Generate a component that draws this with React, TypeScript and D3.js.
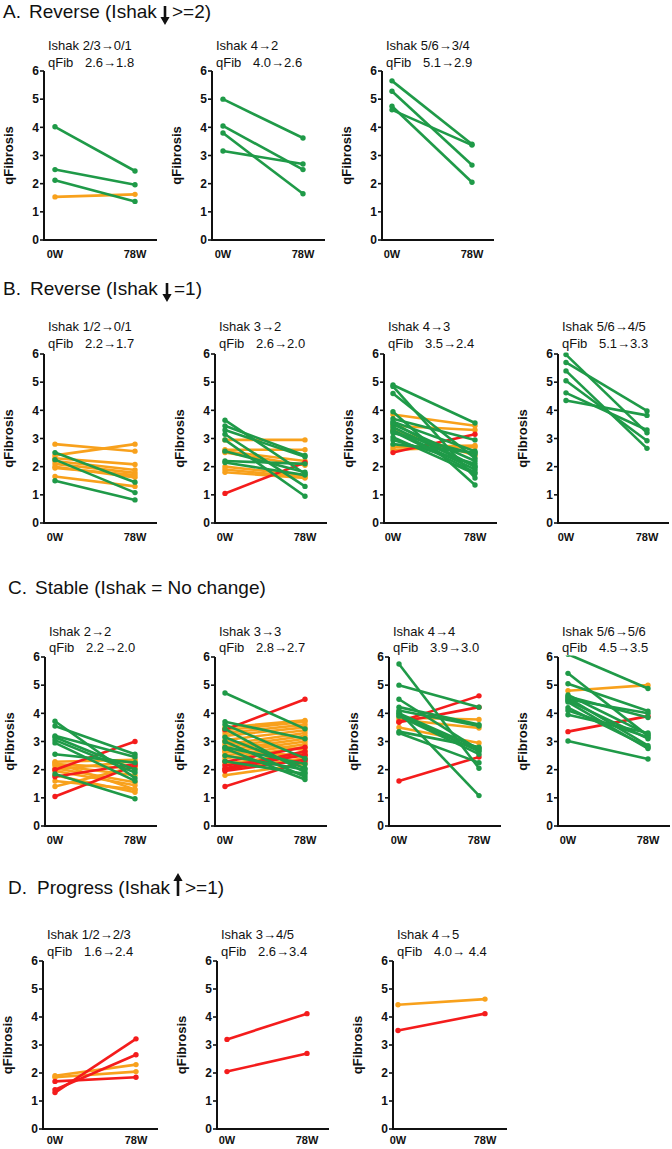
import React from "react";
import * as d3 from "d3";

const GREEN = "#1f9a48";
const ORANGE = "#f8a11c";
const RED = "#f41c1c";

const xLabels = ["0W", "78W"];
const yTicks = [0, 1, 2, 3, 4, 5, 6];

// ---- Row titles ----
const rowLetters = ["A.", "B.", "C.", "D."];
const rowTexts = ["Reverse (Ishak", "Reverse (Ishak", "Stable (Ishak = No change)", "Progress (Ishak"];
const rowArrows = ["down", "down", "none", "up"];
const rowAfter = [">=2)", "=1)", "", ">=1)"];

// ---- Panel subtitles ----
const ishakA = ["Ishak 2/3→0/1", "Ishak 4→2", "Ishak 5/6→3/4"];
const qfibA = ["2.6→1.8", "4.0→2.6", "5.1→2.9"];
const ishakB = ["Ishak 1/2→0/1", "Ishak 3→2", "Ishak 4→3", "Ishak 5/6→4/5"];
const qfibB = ["2.2→1.7", "2.6→2.0", "3.5→2.4", "5.1→3.3"];
const ishakC = ["Ishak 2→2", "Ishak 3→3", "Ishak 4→4", "Ishak 5/6→5/6"];
const qfibC = ["2.2→2.0", "2.8→2.7", "3.9→3.0", "4.5→3.5"];
const ishakD = ["Ishak 1/2→2/3", "Ishak 3→4/5", "Ishak 4→5"];
const qfibD = ["1.6→2.4", "2.6→3.4", "4.0→ 4.4"];

// ---- Data: [0W, 78W] pairs ----
// Row A
const A1_green = [[4.02, 2.45], [2.5, 1.96], [2.12, 1.37]];
const A1_orange = [[1.53, 1.62]];
const A1_red: number[][] = [];
const A2_green = [[5.0, 3.62], [4.05, 2.5], [3.8, 1.64], [3.16, 2.7]];
const A2_orange: number[][] = [];
const A2_red: number[][] = [];
const A3_green = [[5.65, 3.4], [5.28, 2.66], [4.75, 2.05], [4.62, 3.37]];
const A3_orange: number[][] = [];
const A3_red: number[][] = [];

// Row B
const B1_green = [[2.5, 1.45], [2.25, 1.08], [1.5, 0.82]];
const B1_orange = [[2.8, 2.55], [2.4, 2.8], [2.3, 2.08], [2.2, 1.88], [2.1, 1.78], [2.0, 1.62], [1.95, 1.7], [1.65, 1.3]];
const B1_red: number[][] = [];
const B2_green = [[3.65, 1.75], [3.45, 2.4], [3.3, 2.35], [3.15, 1.3], [2.95, 0.95], [2.55, 1.8], [2.2, 2.1], [2.15, 1.7]];
const B2_orange = [[2.95, 2.95], [2.6, 2.6], [2.5, 2.05], [2.0, 1.7], [1.9, 1.62], [1.8, 1.6], [2.55, 2.2]];
const B2_red = [[1.05, 2.15]];
const B3_green = [[4.9, 3.55], [4.85, 1.6], [4.6, 2.3], [3.95, 1.35], [3.7, 2.95], [3.6, 2.55], [3.5, 2.2], [3.4, 2.0], [3.3, 1.9], [3.2, 2.45], [3.05, 1.75], [2.95, 2.1], [2.8, 2.5], [3.55, 2.0], [3.25, 1.8]];
const B3_orange = [[3.85, 3.45], [3.45, 3.3], [2.7, 2.75], [2.6, 2.7], [3.3, 2.4]];
const B3_red = [[2.5, 3.15]];
const B4_green = [[5.98, 3.2], [5.7, 3.98], [5.4, 2.65], [5.05, 2.92], [4.62, 3.3], [4.35, 3.82]];
const B4_orange: number[][] = [];
const B4_red: number[][] = [];

// Row C
const C1_green = [[3.72, 1.7], [3.55, 2.55], [3.2, 2.45], [3.15, 2.0], [3.05, 1.9], [2.95, 1.6], [2.55, 2.25], [1.85, 0.97]];
const C1_orange = [[2.28, 2.35], [2.2, 2.05], [2.15, 1.8], [2.05, 1.55], [2.0, 2.3], [1.95, 1.45], [1.8, 1.2], [1.6, 1.3], [1.4, 2.1], [2.25, 1.3]];
const C1_red = [[2.0, 3.0], [1.75, 2.2], [1.05, 2.15]];
const C2_green = [[4.72, 3.45], [3.7, 3.1], [3.6, 2.4], [3.45, 1.9], [3.15, 2.05], [3.0, 1.75], [2.8, 2.2], [2.75, 1.65], [2.5, 2.0], [2.3, 1.85]];
const C2_orange = [[3.5, 3.75], [3.4, 3.7], [3.3, 3.6], [3.2, 3.5], [3.05, 3.4], [2.9, 3.3], [2.8, 3.2], [2.7, 3.1], [2.6, 3.0], [2.5, 2.9], [2.4, 2.8], [2.2, 2.6], [2.0, 2.4], [1.8, 2.2], [3.0, 2.7], [2.65, 2.5]];
const C2_red = [[3.42, 4.5], [2.28, 2.8], [2.05, 2.65], [2.0, 2.55], [1.95, 2.35], [2.15, 2.5], [1.4, 2.3]];
const C3_green = [[5.75, 2.05], [5.0, 4.22], [4.5, 2.7], [4.22, 3.6], [4.0, 2.75], [4.05, 1.08], [3.95, 2.65], [3.35, 2.8], [3.3, 2.25], [4.1, 3.55], [3.9, 2.55]];
const C3_orange = [[3.85, 3.78], [3.78, 3.48], [3.5, 2.95]];
const C3_red = [[3.7, 4.62], [3.68, 4.22], [1.6, 2.45]];
const C4_green = [[6.1, 4.88], [5.42, 3.2], [5.05, 4.08], [4.65, 3.25], [4.55, 2.85], [4.5, 4.0], [4.45, 3.1], [4.4, 2.75], [4.6, 3.85], [4.2, 2.8], [4.1, 3.15], [3.95, 3.3], [3.02, 2.38]];
const C4_orange = [[4.8, 5.0]];
const C4_red = [[3.35, 3.9]];

// Row D
const D1_green: number[][] = [];
const D1_orange = [[1.9, 2.3], [1.85, 2.05]];
const D1_red = [[1.3, 3.22], [1.7, 1.85], [1.4, 2.65]];
const D2_green: number[][] = [];
const D2_orange: number[][] = [];
const D2_red = [[3.2, 4.12], [2.05, 2.7]];
const D3_green: number[][] = [];
const D3_orange = [[4.44, 4.64]];
const D3_red = [[3.52, 4.12]];

// ---- Layout ----
const FONT = "'Liberation Sans', Arial, Helvetica, sans-serif";

const rowGeo = [
  { base: 18, letterX: 3, textX: 29, arrowX: 165, afterX: 172, sub1: 50, sub2: 67, y6: 71, y0: 240, lab: 18 },
  { base: 295, letterX: 3, textX: 30, arrowX: 167, afterX: 174, sub1: 331, sub2: 348, y6: 354, y0: 523, lab: 18 },
  { base: 594, letterX: 8, textX: 35, arrowX: 0, afterX: 0, sub1: 636, sub2: 652, y6: 657, y0: 826, lab: 18 },
  { base: 894, letterX: 8, textX: 37, arrowX: 178, afterX: 185, sub1: 939, sub2: 956, y6: 961, y0: 1129, lab: 15 },
];

const panelGeo = [
  [{ ax: 44, x0: 55, x1: 135 }, { ax: 212, x0: 223, x1: 303 }, { ax: 382, x0: 392, x1: 472 }],
  [{ ax: 44, x0: 55, x1: 135 }, { ax: 215, x0: 225, x1: 305 }, { ax: 384, x0: 393, x1: 475 }, { ax: 558, x0: 566, x1: 647 }],
  [{ ax: 45, x0: 55, x1: 135 }, { ax: 215, x0: 225, x1: 305 }, { ax: 389, x0: 399, x1: 479 }, { ax: 558, x0: 568, x1: 648 }],
  [{ ax: 43, x0: 55, x1: 136 }, { ax: 217, x0: 227, x1: 307 }, { ax: 393, x0: 398, x1: 485 }],
];

const rowsData = [
  { ishak: ishakA, qfib: qfibA, series: [[A1_orange, A1_red, A1_green], [A2_orange, A2_red, A2_green], [A3_orange, A3_red, A3_green]] },
  { ishak: ishakB, qfib: qfibB, series: [[B1_orange, B1_red, B1_green], [B2_orange, B2_red, B2_green], [B3_orange, B3_red, B3_green], [B4_orange, B4_red, B4_green]] },
  { ishak: ishakC, qfib: qfibC, series: [[C1_orange, C1_red, C1_green], [C2_orange, C2_red, C2_green], [C3_orange, C3_red, C3_green], [C4_orange, C4_red, C4_green]] },
  { ishak: ishakD, qfib: qfibD, series: [[D1_orange, D1_red, D1_green], [D2_orange, D2_red, D2_green], [D3_orange, D3_red, D3_green]] },
];
const seriesColors = [ORANGE, RED, GREEN];

function Arrow({ x, base, dir }: { x: number; base: number; dir: string }) {
  if (dir === "down") {
    const top = base - 12, bot = base + 7, h = 8;
    return <path d={`M${x - 1.3},${top} L${x + 1.3},${top} L${x + 1.3},${bot - h} L${x + 4.6},${bot - h} L${x},${bot} L${x - 4.6},${bot - h} L${x - 1.3},${bot - h} Z`} fill="#111" />;
  }
  if (dir === "up") {
    const top = base - 21, bot = base + 2, h = 8;
    return <path d={`M${x - 1.3},${bot} L${x + 1.3},${bot} L${x + 1.3},${top + h} L${x + 4.6},${top + h} L${x},${top} L${x - 4.6},${top + h} L${x - 1.3},${top + h} Z`} fill="#111" />;
  }
  return null;
}

function Panel({ ri, pi }: { ri: number; pi: number }) {
  const rg = rowGeo[ri];
  const pg = panelGeo[ri][pi];
  const rd = rowsData[ri];
  const y = d3.scaleLinear().domain([0, 6]).range([rg.y0, rg.y6]);
  const x = d3.scalePoint<string>().domain(xLabels).range([pg.x0, pg.x1]);
  const axEnd = pg.x1 + 22;
  const clipId = `clip-${ri}-${pi}`;
  const midY = (rg.y0 + rg.y6) / 2;
  return (
    <g>
      <defs>
        <clipPath id={clipId}>
          <rect x={pg.ax} y={rg.y6 - 1.5} width={axEnd - pg.ax + 10} height={rg.y0 - rg.y6 + 10} />
        </clipPath>
      </defs>
      <text x={pg.ax + 4} y={rg.sub1} fontSize={13} fontFamily={FONT} fill="#111">{rd.ishak[pi]}</text>
      <text x={pg.ax + 4} y={rg.sub2} fontSize={13} fontFamily={FONT} fill="#111">qFib</text>
      <text x={pg.ax + 41} y={rg.sub2} fontSize={13} fontFamily={FONT} fill="#111">{rd.qfib[pi]}</text>
      <g clipPath={`url(#${clipId})`}>
        {rd.series[pi].map((ser, si) =>
          ser.map((pair, k) => (
            <g key={`${si}-${k}`}>
              <line x1={x("0W")} y1={y(pair[0])} x2={x("78W")} y2={y(pair[1])} stroke={seriesColors[si]} strokeWidth={2.6} />
              <circle cx={x("0W")} cy={y(pair[0])} r={2.7} fill={seriesColors[si]} />
              <circle cx={x("78W")} cy={y(pair[1])} r={2.7} fill={seriesColors[si]} />
            </g>
          ))
        )}
      </g>
      <line x1={pg.ax} y1={rg.y6} x2={pg.ax} y2={rg.y0} stroke="#111" strokeWidth={2} />
      <line x1={pg.ax - 1} y1={rg.y0} x2={axEnd} y2={rg.y0} stroke="#111" strokeWidth={2} />
      {yTicks.map((t) => (
        <g key={t}>
          <line x1={pg.ax - 4} y1={y(t)} x2={pg.ax} y2={y(t)} stroke="#111" strokeWidth={1.6} />
          <text x={pg.ax - 5} y={y(t) + 4.3} fontSize={12} fontWeight="bold" textAnchor="end" fontFamily={FONT} fill="#111">{t}</text>
        </g>
      ))}
      {xLabels.map((l) => (
        <text key={l} x={x(l)} y={rg.y0 + rg.lab} fontSize={11} fontWeight="bold" textAnchor="middle" fontFamily={FONT} fill="#111">{l}</text>
      ))}
      <text transform={`translate(${pg.ax - 31},${midY}) rotate(-90)`} textAnchor="middle" fontSize={13} fontWeight="bold" fontFamily={FONT} fill="#111">qFibrosis</text>
    </g>
  );
}

export default function App() {
  return (
    <svg width={672} height={1149} style={{ position: "absolute", left: 0, top: 0, background: "#fff" }}>
      <rect x={0} y={0} width={672} height={1149} fill="#fff" />
      {rowGeo.map((rg, ri) => (
        <g key={ri}>
          <text x={rg.letterX} y={rg.base} fontSize={19} fontFamily={FONT} fill="#111">{rowLetters[ri]}</text>
          <text x={rg.textX} y={rg.base} fontSize={19} fontFamily={FONT} fill="#111">{rowTexts[ri]}</text>
          <Arrow x={rg.arrowX} base={rg.base} dir={rowArrows[ri]} />
          {rowAfter[ri] && <text x={rg.afterX} y={rg.base} fontSize={19} fontFamily={FONT} fill="#111">{rowAfter[ri]}</text>}
          {panelGeo[ri].map((_, pi) => <Panel key={pi} ri={ri} pi={pi} />)}
        </g>
      ))}
    </svg>
  );
}
